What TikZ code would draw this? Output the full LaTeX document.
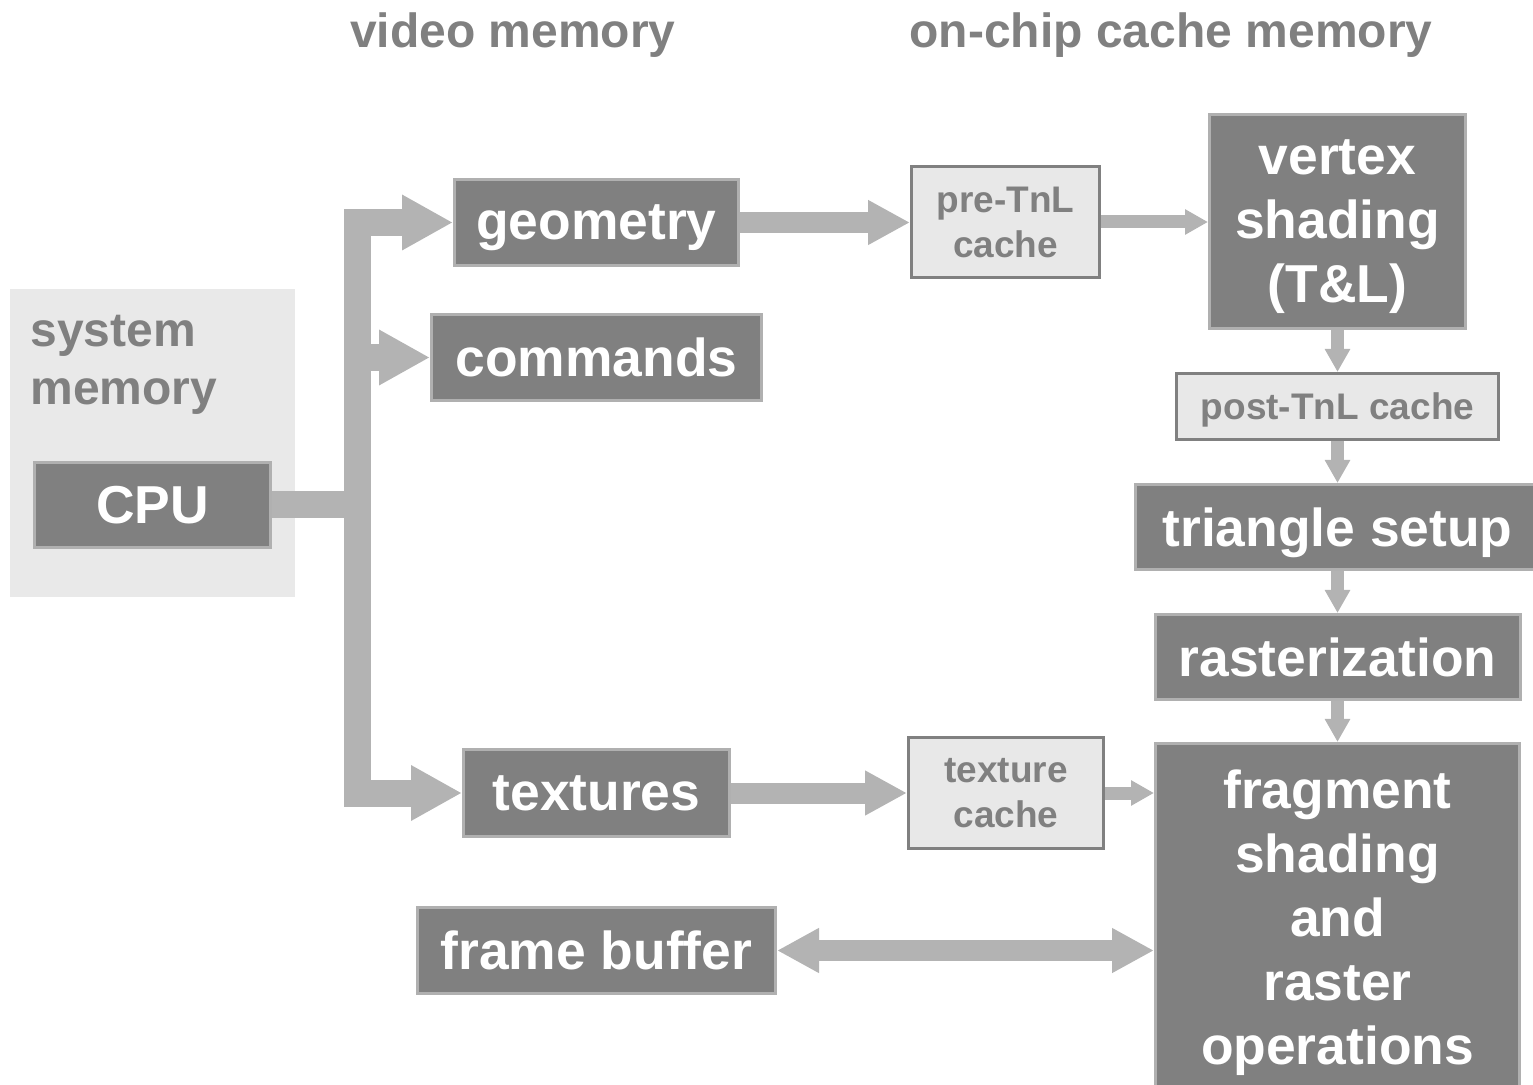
\documentclass[tikz,border=0pt]{standalone}
\usepackage{fontspec}
\setmainfont{Liberation Sans}
\usepackage{tikz}
\usetikzlibrary{
  arrows.meta,
  positioning
}
\definecolor{BoxGray}{RGB}{128,128,128}
\definecolor{EdgeGray}{RGB}{176,176,176}
\definecolor{PipeGray}{RGB}{179,179,179}
\definecolor{PaleGray}{RGB}{233,233,233}
\definecolor{CacheFill}{RGB}{232,232,232}
\tikzset{
  %%── pipeline stages (dark boxes) ──────────────────────────
  stage/.style = {
    rectangle, draw = EdgeGray, fill = BoxGray, line width = 1.5pt,
    inner sep = 0pt, align = center, text = white, text depth = 0pt,
    font = \fontsize{26.7}{32}\selectfont\bfseries
  },
  %%── caches (light boxes) ──────────────────────────────────
  cachebox/.style = {
    rectangle, draw = BoxGray, fill = CacheFill, line width = 1.5pt,
    inner sep = 0pt, align = center, text = BoxGray, text depth = 0pt,
    font = \fontsize{18.5}{22.5}\selectfont\bfseries
  },
  %%── memory titles and background ──────────────────────────
  memtitle/.style = {
    inner sep = 0pt, align = left, text = BoxGray, text depth = 0pt,
    font = \fontsize{24}{29}\selectfont\bfseries
  },
  membg/.style = {rectangle, fill = PaleGray, inner sep = 0pt},
  %%── fat arrows ────────────────────────────────────────────
  busline/.style = {line width = 13.5pt, color = PipeGray},
  busarr/.style  = {busline, -{Triangle[length=25.5pt, width=26pt]}},
  midarr/.style  = {line width = 10.5pt, color = PipeGray,
                    -{Triangle[length=21pt, width=21pt]}},
  twoarr/.style  = {line width = 10.5pt, color = PipeGray,
                    {Triangle[length=21pt, width=21pt]}-{Triangle[length=21pt, width=21pt]}},
  thinarr/.style = {line width = 6.5pt, color = PipeGray,
                    -{Triangle[length=11.5pt, width=12pt]}},
}

\begin{document}
\begin{tikzpicture}[x = 0.5pt, y = -0.5pt]
  \useasboundingbox (0,0) rectangle (1533,1085);

  %% column headers
  \node[memtitle] (vidmem)  at (513,30)  {video memory};
  \node[memtitle] (chipmem) at (1171,30) {on-chip cache memory};

  %% system memory
  \node[membg, minimum width = 142.5pt, minimum height = 154pt] (sysmem) at (152.5,443) {};
  \node[memtitle, anchor = west] (sysname) at (30,360) {system\\memory};
  \node[stage, minimum width = 118pt, minimum height = 42.5pt] (cpu) at (152.5,505) {CPU};

  %% video memory
  \node[stage, minimum width = 142pt, minimum height = 43pt] (geometry) at (596.5,222.5) {geometry};
  \node[stage, minimum width = 165pt, minimum height = 43pt] (commands) at (596.5,357.5) {commands};
  \node[stage, minimum width = 133pt, minimum height = 43.5pt] (textures) at (596.5,793) {textures};
  \node[stage, minimum width = 179pt, minimum height = 43pt] (framebuf) at (596.5,950.5) {frame buffer};

  %% caches
  \node[cachebox, minimum width = 94pt, minimum height = 55.5pt] (pretnl) at (1005.5,222) {pre-TnL\\cache};
  \node[cachebox, minimum width = 97.5pt, minimum height = 55.5pt] (texcache) at (1006,793) {texture\\cache};

  %% on-chip pipeline
  \node[stage, minimum width = 128pt, minimum height = 107pt] (vertex) at (1337.5,221.5)
    {vertex\\shading\\(T\&L)};
  \node[cachebox, minimum width = 161pt, minimum height = 33pt, below = 21pt of vertex] (posttnl)
    {post-TnL cache};
  \node[stage, minimum width = 202pt, minimum height = 42.5pt, below = 21pt of posttnl] (triangle)
    {triangle setup};
  \node[stage, minimum width = 182.5pt, minimum height = 42.5pt, below = 21pt of triangle] (raster)
    {rasterization};
  \node[stage, minimum width = 182pt, minimum height = 173.5pt, below = 20.5pt of raster] (fragment)
    {fragment\\shading\\and\\raster\\operations};

  %% bus out of the CPU
  \coordinate (bus) at (357.5,505);
  \draw[busline] (cpu.east) -- (bus);
  \draw[busarr] (bus) |- (geometry.west);
  \draw[busarr] (bus |- commands.west) -- (commands.west);
  \draw[busarr] (bus) |- (textures.west);

  %% into the caches
  \draw[midarr]  (geometry.east) -- (geometry.east -| pretnl.west);
  \draw[thinarr] (pretnl.east)   -- (pretnl.east -| vertex.west);
  \draw[midarr]  (textures.east) -- (texcache.west);
  \draw[thinarr] (texcache.east) -- (texcache.east -| fragment.west);
  \draw[twoarr]  (framebuf.east) -- (framebuf.east -| fragment.west);

  %% down the pipeline
  \foreach \a/\b in {vertex/posttnl, posttnl/triangle, triangle/raster, raster/fragment}
    \draw[thinarr] (\a) -- (\b);

\end{tikzpicture}
\end{document}
